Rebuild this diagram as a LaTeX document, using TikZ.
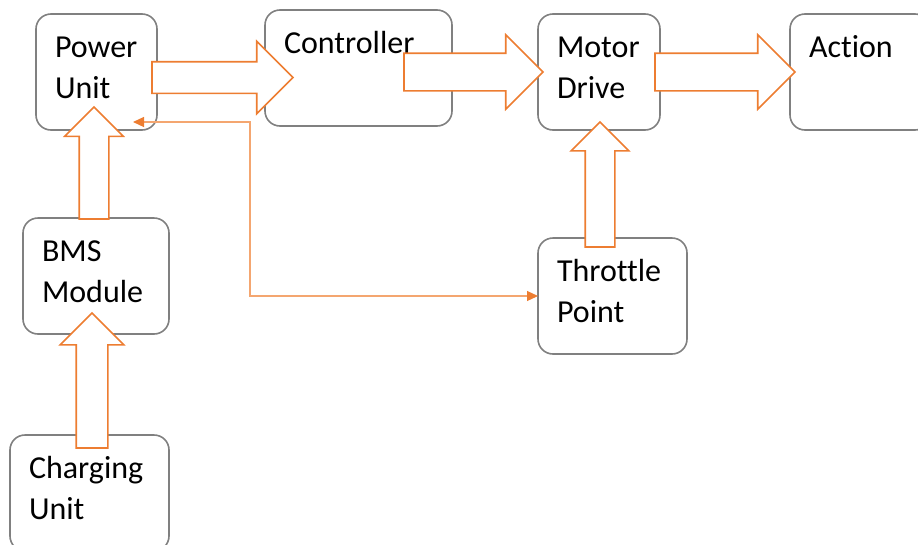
\documentclass[tikz,border=0pt]{standalone}
\usepackage{fontspec}
\setmainfont{Carlito}[Ligatures=NoCommon]
\usetikzlibrary{shapes.arrows,arrows.meta,calc}

\definecolor{boxgray}{RGB}{128,128,128}
\definecolor{flow}{RGB}{237,125,49}
\definecolor{wirecol}{RGB}{244,166,112}
\hyphenpenalty=10000

\begin{document}
\begin{tikzpicture}[
    x=1pt, y=-1pt,
    unit/.style={
        rectangle,
        draw=boxgray,
        line width=1.6pt,
        rounded corners=15pt,
        anchor=north west,
        inner xsep=19pt,
        inner ysep=0pt,
        outer sep=0pt,
        align=left,
        text height=43pt,
        text depth=73pt,
        font=\fontsize{32}{41}\selectfont
    },
    % hollow block arrow: length, half shaft, head extend
    flowarrow/.style n args={3}{
        single arrow,
        draw=flow,
        fill=white,
        line width=1.6pt,
        anchor=tail,
        inner xsep=0pt,
        inner ysep=#2,
        outer sep=0pt,
        minimum width=0pt,
        single arrow head extend=#3,
        minimum height=#1
    },
    wire/.style={
        draw=wirecol,
        line width=1.2pt,
        >={Triangle[length=11pt,width=10pt,color=flow]},
        <->
    }
]
    \useasboundingbox (0,0) rectangle (918,544);

    % The blocks
    \node[unit, text width=83pt]  (power)    at (36,14)   {Power\\Unit};
    \node[unit, text width=149pt] (ctrl)     at (265,10)  {Controller};
    \node[unit, text width=84pt]  (motor)    at (538,14)  {Motor\\Drive};
    \node[unit, text width=102pt] (action)   at (790,14)  {Action};
    \node[unit, text width=108pt] (bms)      at (23,218)  {BMS\\Module};
    \node[unit, text width=111pt] (throttle) at (538,238) {Throttle\\Point};
    \node[unit, text width=121pt] (charging) at (10,435)  {Charging\\Unit};

    % Power flow along the top row
    \node[flowarrow={141pt}{15pt}{20.5pt}] (p2c) at ($(power.east)+(-5,5.5)$) {};
    \node[flowarrow={139pt}{18pt}{18.5pt}] (c2m) at ($(ctrl.east)+(-48,4)$) {};
    \node[flowarrow={140pt}{18pt}{18.5pt}] (m2a) at ($(motor.east)+(-5,0)$) {};

    % Upward arrows into the blocks above
    \node[flowarrow={112pt}{14pt}{14.5pt}, rotate=90] (b2p) at ($(bms.north)+(-2,1)$) {};
    \node[flowarrow={135pt}{15pt}{16pt}, rotate=90] (c2b) at ($(charging.north)+(2.5,13)$) {};
    \node[flowarrow={125pt}{14pt}{14pt}, rotate=90] (t2m) at ($(throttle.north)+(-12.5,9)$) {};

    % Signal line between power unit and throttle
    \coordinate (pwr tap) at ($(power.south east)+(-24,-8)$);
    \draw[wire] (pwr tap) -| ($(throttle.west)+(-288,0)$) -- (throttle.west);

\end{tikzpicture}
\end{document}
